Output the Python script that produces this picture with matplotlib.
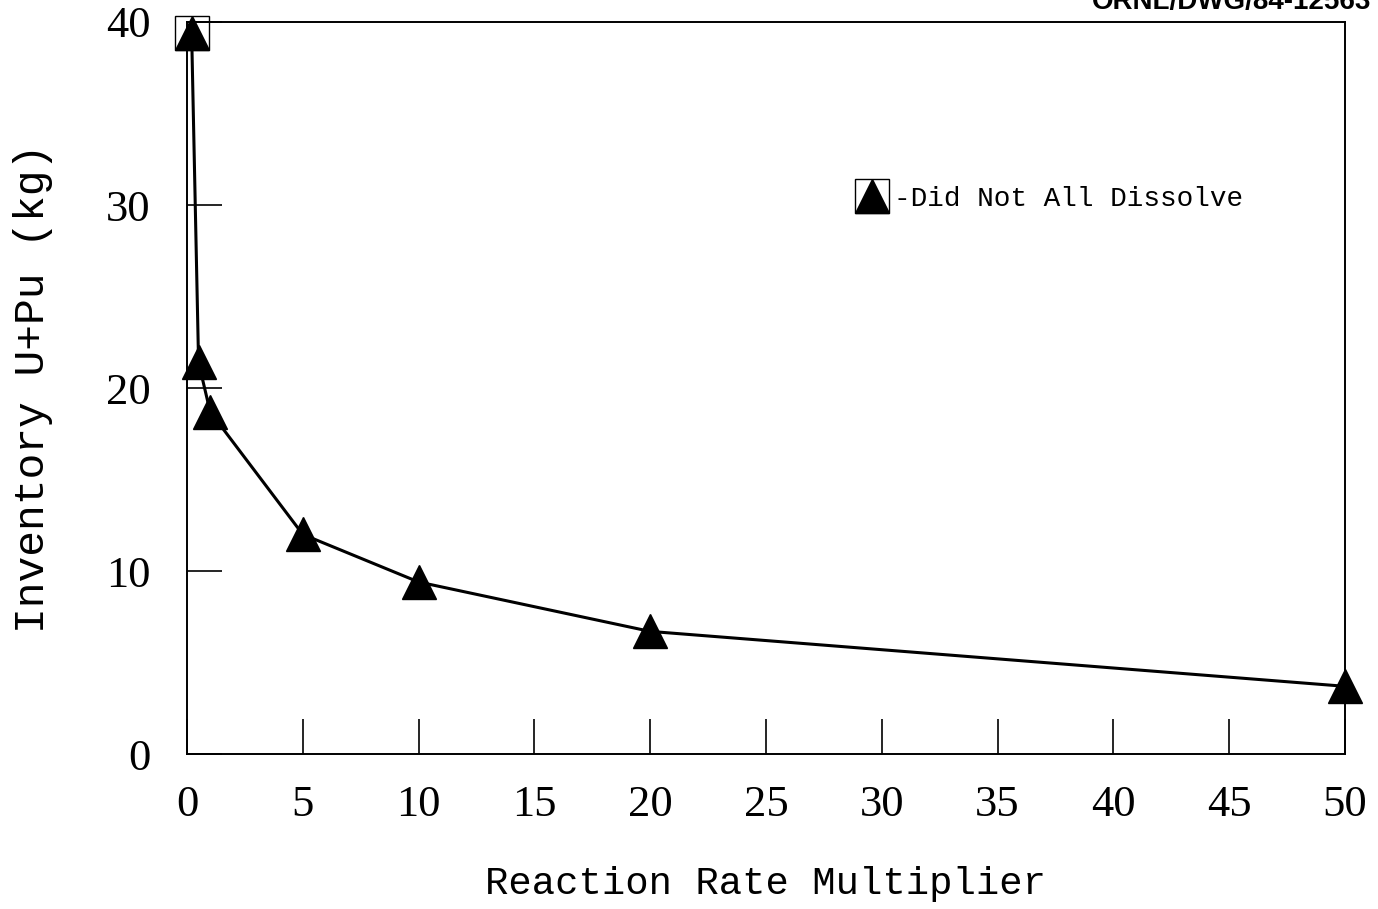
import matplotlib
matplotlib.use("Agg")
import matplotlib.pyplot as plt
from matplotlib.legend_handler import HandlerTuple
from matplotlib.lines import Line2D

# Data
rate_multiplier = [0.2, 0.5, 1, 5, 10, 20, 50]
inventory_kg = [39.4, 21.4, 18.7, 12.0, 9.4, 6.7, 3.7]
not_dissolved_x = [0.2]
not_dissolved_y = [39.4]
x_ticks = [0, 5, 10, 15, 20, 25, 30, 35, 40, 45, 50]
y_ticks = [0, 10, 20, 30, 40]

fig = plt.figure(figsize=(13.78, 9.09), dpi=100)
ax = fig.add_axes([0.1357, 0.1705, 0.976 - 0.1357, 0.9758 - 0.1705])

ax.plot(rate_multiplier, inventory_kg, color="black", lw=2.2, marker="^",
        ms=24, mfc="black", mec="black", zorder=3, clip_on=False)
ax.plot(not_dissolved_x, not_dissolved_y, ls="none", marker="s", ms=24,
        mfc="none", mec="black", mew=1.0, zorder=4, clip_on=False)

ax.set_xlim(0, 50)
ax.set_ylim(0, 40)
ax.set_xticks(x_ticks)
ax.set_yticks(y_ticks)

tick_font = dict(family="Liberation Serif", size=32)
ax.set_xticklabels([str(t) for t in x_ticks], fontdict=tick_font)
ax.set_yticklabels([str(t) for t in y_ticks], fontdict=tick_font)
ax.tick_params(axis="both", direction="in", length=25, width=1.2, color="black")
ax.tick_params(axis="x", pad=22)
ax.tick_params(axis="y", pad=26)

for s in ax.spines.values():
    s.set_linewidth(1.4)

ax.set_xlabel("Reaction Rate Multiplier", family="Liberation Mono", size=28, labelpad=30)
ax.set_ylabel("Inventory U+Pu (kg)", family="Liberation Mono", size=31, labelpad=38)

h_sq = Line2D([], [], ls="none", marker="s", ms=24, mfc="none", mec="black", mew=1.0)
h_tri = Line2D([], [], ls="none", marker="^", ms=24, mfc="black", mec="black")
leg = ax.legend([(h_tri, h_sq)], ["-Did Not All Dissolve"],
                handler_map={tuple: HandlerTuple(ndivide=1, pad=0)},
                loc="center left", bbox_to_anchor=(0.570, 0.758), frameon=False,
                handlelength=1.0, handletextpad=0.3, borderaxespad=0,
                prop=dict(family="Liberation Mono", size=20))

fig.text(0.995, 0.998, "ORNL/DWG/84-12563", ha="right", va="center",
         family="Liberation Sans", weight="bold", size=20)

fig.savefig("out.png", dpi=100)
